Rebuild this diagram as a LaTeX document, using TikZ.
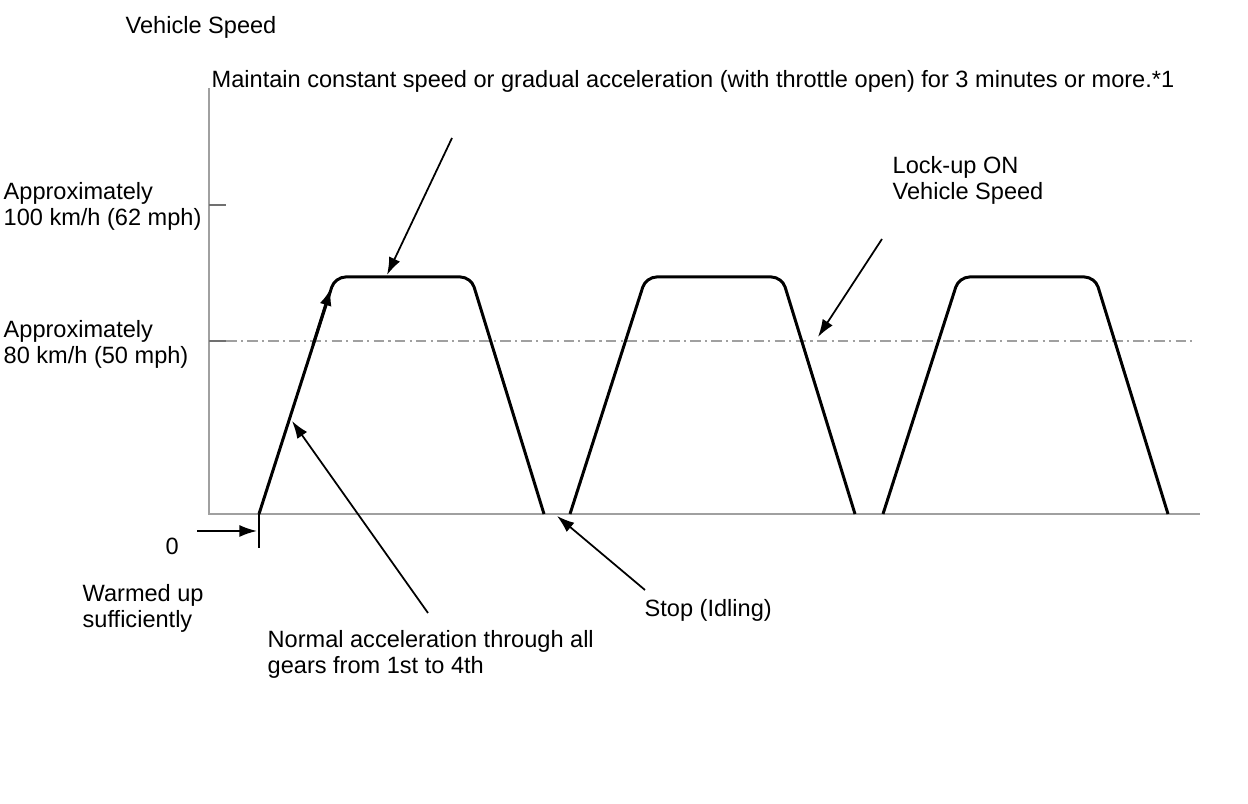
\documentclass[tikz,border=0pt]{standalone}
\usepackage{fontspec}
\setmainfont{Liberation Sans}
\usetikzlibrary{arrows.meta}
\definecolor{AxisGray}{HTML}{A0A0A0}
\definecolor{TickGray}{HTML}{707070}
\begin{document}
\begin{tikzpicture}[x=0.01cm,y=-0.01cm,font=\fontsize{6.7}{7.4}\selectfont,inner sep=0pt]
            \useasboundingbox (0,0) rectangle (1248,804);

            % axes and levels
            \draw[AxisGray,line width=0.6pt] (209,88)--(209,514)--(1200,514);
            \draw[TickGray,line width=0.4pt] (209,205)--(226,205);
            \draw[TickGray,line width=0.6pt] (209,341)--(226,341);
            \draw[AxisGray,line width=0.4pt,dash pattern=on 3pt off 1.2pt on 0.6pt off 1.2pt] (226,341)--(1192,341);
            \draw[line width=0.3pt] (259,514)--(259,548);

            % speed pattern
            \foreach \s in {259,570,883}
                \draw[line width=0.85pt,rounded corners=3pt] (\s,514)--(\s+76,277)--(\s+212,277)--(\s+285,514);
            \coordinate (rise1) at (313,345);
            \coordinate (rise2) at (331,288);
            \draw[line width=0.85pt,-{Latex[length=5pt,width=3.4pt]}] (rise1)--(rise2);

            % labels
            \node[anchor=base west] (yaxis) at (125,34){Vehicle Speed};
            \node[anchor=base west] (keep) at (211,88){Maintain constant speed or gradual acceleration (with throttle open) for 3 minutes or more.*1};
            \node[anchor=base west,align=left] (hundred) at (3,226){Approximately\\100 km/h (62 mph)};
            \node[anchor=base west,align=left] (eighty) at (3,364){Approximately\\80 km/h (50 mph)};
            \node[anchor=base west,align=left] (lockup) at (892,200){Lock-up ON\\Vehicle Speed};
            \node[anchor=base west] (zero) at (165,555){0};
            \node[anchor=base west,align=left] (warm) at (82,628){Warmed up\\sufficiently};
            \node[anchor=base west,align=left] (normal) at (267,674){Normal acceleration through all\\gears from 1st to 4th};
            \node[anchor=base west] (stop) at (644,617){Stop (Idling)};

            % pointers
            \coordinate (keepfrom) at (452,138);
            \coordinate (keepto) at (387,275);
            \coordinate (lockfrom) at (882,239);
            \coordinate (lockto) at (818,337);
            \coordinate (zerofrom) at (197,531);
            \coordinate (zeroto) at (257,531);
            \coordinate (normfrom) at (428,613);
            \coordinate (normto) at (292,421);
            \coordinate (stopfrom) at (645,590);
            \coordinate (stopto) at (557,516);
            \foreach \a/\b in {keepfrom/keepto,lockfrom/lockto,zerofrom/zeroto,normfrom/normto,stopfrom/stopto}
                \draw[line width=0.5pt,-{Latex[length=5pt,width=3.4pt]}] (\a)--(\b);
\end{tikzpicture}
\end{document}
